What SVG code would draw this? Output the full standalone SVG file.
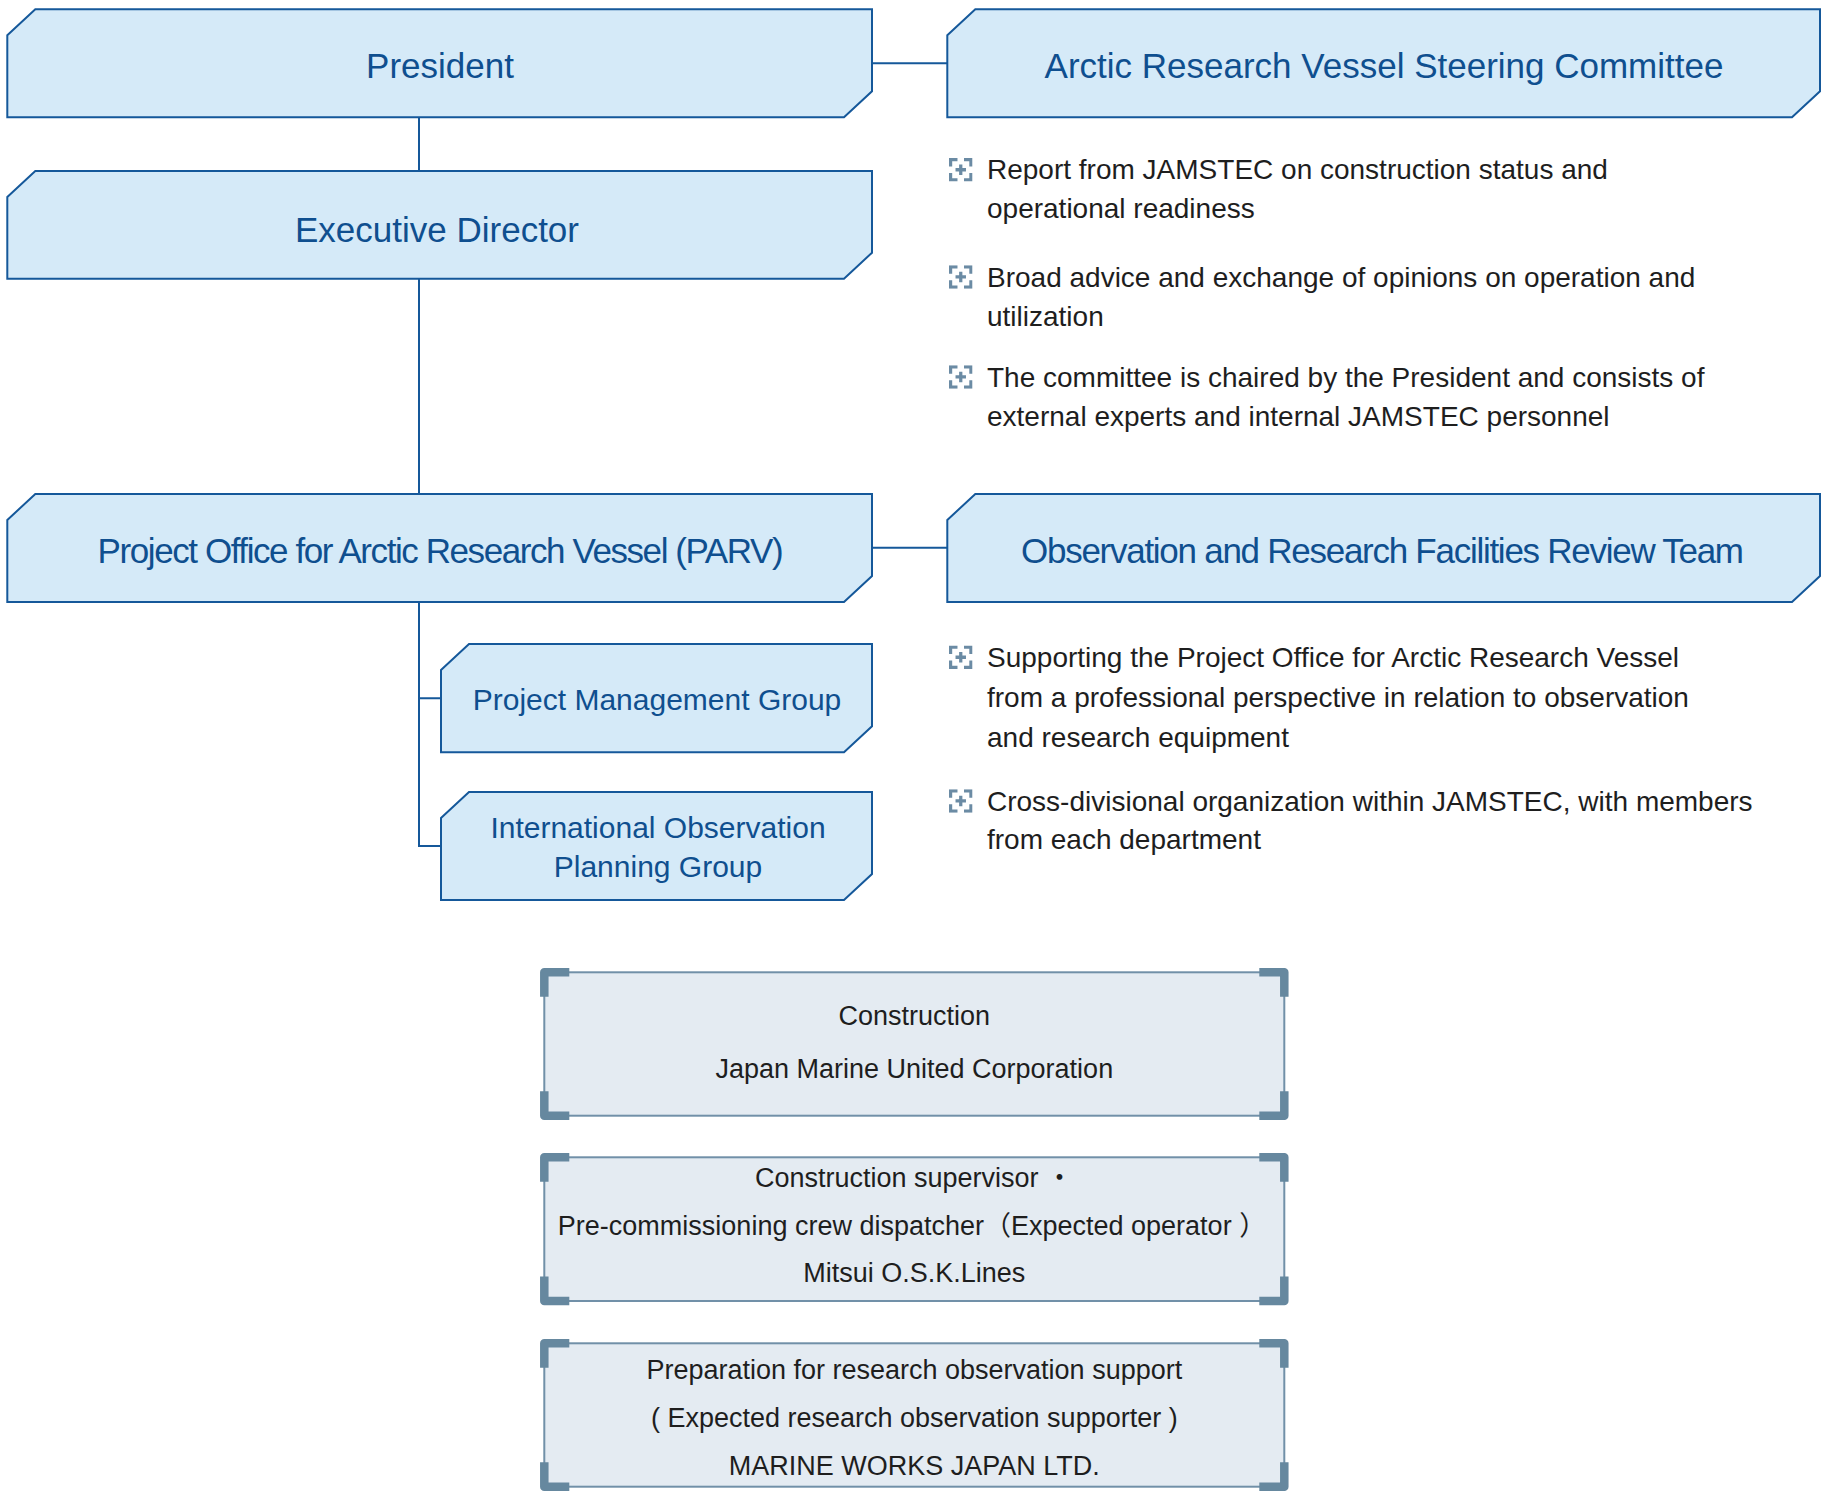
<svg xmlns="http://www.w3.org/2000/svg" xmlns:xlink="http://www.w3.org/1999/xlink" width="1830" height="1503" viewBox="0 0 1830 1503">
<style>
.node{fill:#d5eaf8;stroke:#15589a;stroke-width:2}
.nt{font-family:"Liberation Sans",Arial,sans-serif;fill:#0f4f8f;text-anchor:middle}
.big{font-size:35px}
.mid{font-size:30px}
.conn{fill:none;stroke:#15589a;stroke-width:2}
.bt{font-family:"Liberation Sans",Arial,sans-serif;font-size:28px;fill:#1e1e1e}
.box{fill:#e4ebf2;stroke:#7190a8;stroke-width:2}
.br{fill:none;stroke:#66889f;stroke-width:8.5;stroke-linejoin:round}
.ct{font-family:"Liberation Sans","Noto Sans CJK JP",Arial,sans-serif;font-size:27px;fill:#1e1e1e;text-anchor:middle}
</style>
<defs>
<symbol id="ico" viewBox="0 0 18 18">
<path d="M1.2,6.5 V1.2 H6.5 M11.5,1.2 H16.8 V6.5 M16.8,11.5 V16.8 H11.5 M6.5,16.8 H1.2 V11.5 M9,5 V13 M5,9 H13" fill="none" stroke="#6b8ba4" stroke-width="2.5"/>
</symbol>
</defs>
<rect width="1830" height="1503" fill="#ffffff"/>

<g id="connectors">
<path class="conn" d="M419,117 V171"/>
<path class="conn" d="M872,63.3 H947"/>
<path class="conn" d="M419,279 V494"/>
<path class="conn" d="M872,547.7 H947"/>
<path class="conn" d="M419,602 V846 H441 M419,698.3 H441"/>
</g>

<g id="president">
<path class="node" d="M7.3,35.3 L35.3,9.3 H872 V91.3 L844,117.3 H7.3 Z"/>
<text class="nt big" x="440" y="78.3">President</text>
</g>
<g id="steering-committee">
<path class="node" d="M947.3,35.3 L975.3,9.3 H1820 V91.3 L1792,117.3 H947.3 Z"/>
<text class="nt big" x="1384" y="78.3">Arctic Research Vessel Steering Committee</text>
</g>
<g id="executive-director">
<path class="node" d="M7.3,197 L35.3,171 H872 V252.7 L844,278.7 H7.3 Z"/>
<text class="nt big" x="437" y="241.5">Executive Director</text>
</g>
<g id="parv">
<path class="node" d="M7.3,520 L35.3,494 H872 V576 L844,602 H7.3 Z"/>
<text class="nt big" x="440.6" y="562.7" textLength="686" lengthAdjust="spacing">Project Office for Arctic Research Vessel (PARV)</text>
</g>
<g id="review-team">
<path class="node" d="M947.3,520 L975.3,494 H1820 V576 L1792,602 H947.3 Z"/>
<text class="nt big" x="1382.5" y="562.7" textLength="723" lengthAdjust="spacing">Observation and Research Facilities Review Team</text>
</g>
<g id="project-management-group">
<path class="node" d="M441,670 L469,644 H872 V726.3 L844,752.3 H441 Z"/>
<text class="nt mid" x="657" y="710">Project Management Group</text>
</g>
<g id="international-observation-planning-group">
<path class="node" d="M441,818 L469,792 H872 V874 L844,900 H441 Z"/>
<text class="nt mid" x="658" y="838.3">International Observation</text>
<text class="nt mid" x="658" y="876.7">Planning Group</text>
</g>

<g id="committee-notes">
<use xlink:href="#ico" href="#ico" x="949" y="158" width="23.5" height="23.5"/>
<text class="bt" x="987" y="179.3">Report from JAMSTEC on construction status and</text>
<text class="bt" x="987" y="218.3">operational readiness</text>
<use xlink:href="#ico" href="#ico" x="949" y="265.2" width="23.5" height="23.5"/>
<text class="bt" x="987" y="286.7">Broad advice and exchange of opinions on operation and</text>
<text class="bt" x="987" y="326">utilization</text>
<use xlink:href="#ico" href="#ico" x="949" y="365.2" width="23.5" height="23.5"/>
<text class="bt" x="987" y="386.7">The committee is chaired by the President and consists of</text>
<text class="bt" x="987" y="426">external experts and internal JAMSTEC personnel</text>
</g>
<g id="review-team-notes">
<use xlink:href="#ico" href="#ico" x="949" y="645.5" width="23.5" height="23.5"/>
<text class="bt" x="987" y="667">Supporting the Project Office for Arctic Research Vessel</text>
<text class="bt" x="987" y="706.7">from a professional perspective in relation to observation</text>
<text class="bt" x="987" y="746.7">and research equipment</text>
<use xlink:href="#ico" href="#ico" x="949" y="789.2" width="23.5" height="23.5"/>
<text class="bt" x="987" y="810.7">Cross-divisional organization within JAMSTEC, with members</text>
<text class="bt" x="987" y="849.3">from each department</text>
</g>

<g id="construction">
<rect class="box" x="544.3" y="972.3" width="740" height="143.4"/>
<path class="br" d="M544.3,996.7 V972.3 H569.3 M1259.3,972.3 H1284.3 V996.7 M1284.3,1091.3 V1115.7 H1259.3 M569.3,1115.7 H544.3 V1091.3"/>
<text class="ct" x="914.3" y="1025">Construction</text>
<text class="ct" x="914.3" y="1078.3">Japan Marine United Corporation</text>
</g>
<g id="supervisor">
<rect class="box" x="544.3" y="1157.3" width="740" height="143.7"/>
<path class="br" d="M544.3,1181.7 V1157.3 H569.3 M1259.3,1157.3 H1284.3 V1181.7 M1284.3,1276.6 V1301 H1259.3 M569.3,1301 H544.3 V1276.6"/>
<text class="ct" x="914" y="1186.7">Construction supervisor ・</text>
<text class="ct" x="912" y="1235">Pre-commissioning crew dispatcher（Expected operator ）</text>
<text class="ct" x="914.3" y="1281.7">Mitsui O.S.K.Lines</text>
</g>
<g id="research-support">
<rect class="box" x="544.3" y="1343.3" width="740" height="143.4"/>
<path class="br" d="M544.3,1367.7 V1343.3 H569.3 M1259.3,1343.3 H1284.3 V1367.7 M1284.3,1462.3 V1486.7 H1259.3 M569.3,1486.7 H544.3 V1462.3"/>
<text class="ct" x="914.3" y="1379.3">Preparation for research observation support</text>
<text class="ct" x="914.3" y="1426.7">( Expected research observation supporter )</text>
<text class="ct" x="914.3" y="1475">MARINE WORKS JAPAN LTD.</text>
</g>
</svg>
